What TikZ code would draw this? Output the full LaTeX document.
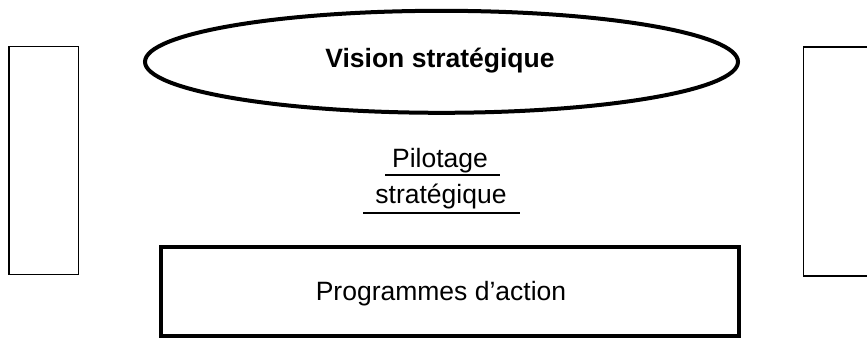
\documentclass[tikz,border=0pt]{standalone}
\usepackage{fontspec}
\setmainfont{Liberation Sans}
\usetikzlibrary{shapes.geometric}
\begin{document}
\begin{tikzpicture}[x=1pt,y=-1pt,
  sidebox/.style={draw, line width=1.3pt},
  heavy/.style={draw, line width=4pt},
  label/.style={font=\fontsize{26.5}{30}\selectfont, anchor=base, inner sep=0pt},
  rule/.style={line width=1.2pt}]
\clip (0,0) rectangle (867,356);
\fill[white] (0,0) rectangle (867,356);
% side boxes
\draw[sidebox] (9,46.5) rectangle (78.5,274.5);
\draw[sidebox] (803.5,47) rectangle (900,276);
% ellipse
\node[ellipse, heavy, minimum width=593pt, minimum height=102pt, inner sep=0pt] (vision) at (441.5,61.8) {};
\node[label, font=\fontsize{26.5}{30}\selectfont\bfseries] (visiontxt) at (440,67) {Vision stratégique};
% pilotage
\node[label] (pilot) at (440,167) {Pilotage};
\node[label] (strat) at (441,203) {stratégique};
\coordinate (u1a) at (385,175); \coordinate (u1b) at (500,175);
\coordinate (u2a) at (363,213); \coordinate (u2b) at (520,213);
\draw[rule] (u1a) -- (u1b);
\draw[rule] (u2a) -- (u2b);
% programmes
\draw[heavy] (161,247) rectangle (739,336);
\node[label] (prog) at (441,300) {Programmes d’action};
\end{tikzpicture}
\end{document}
